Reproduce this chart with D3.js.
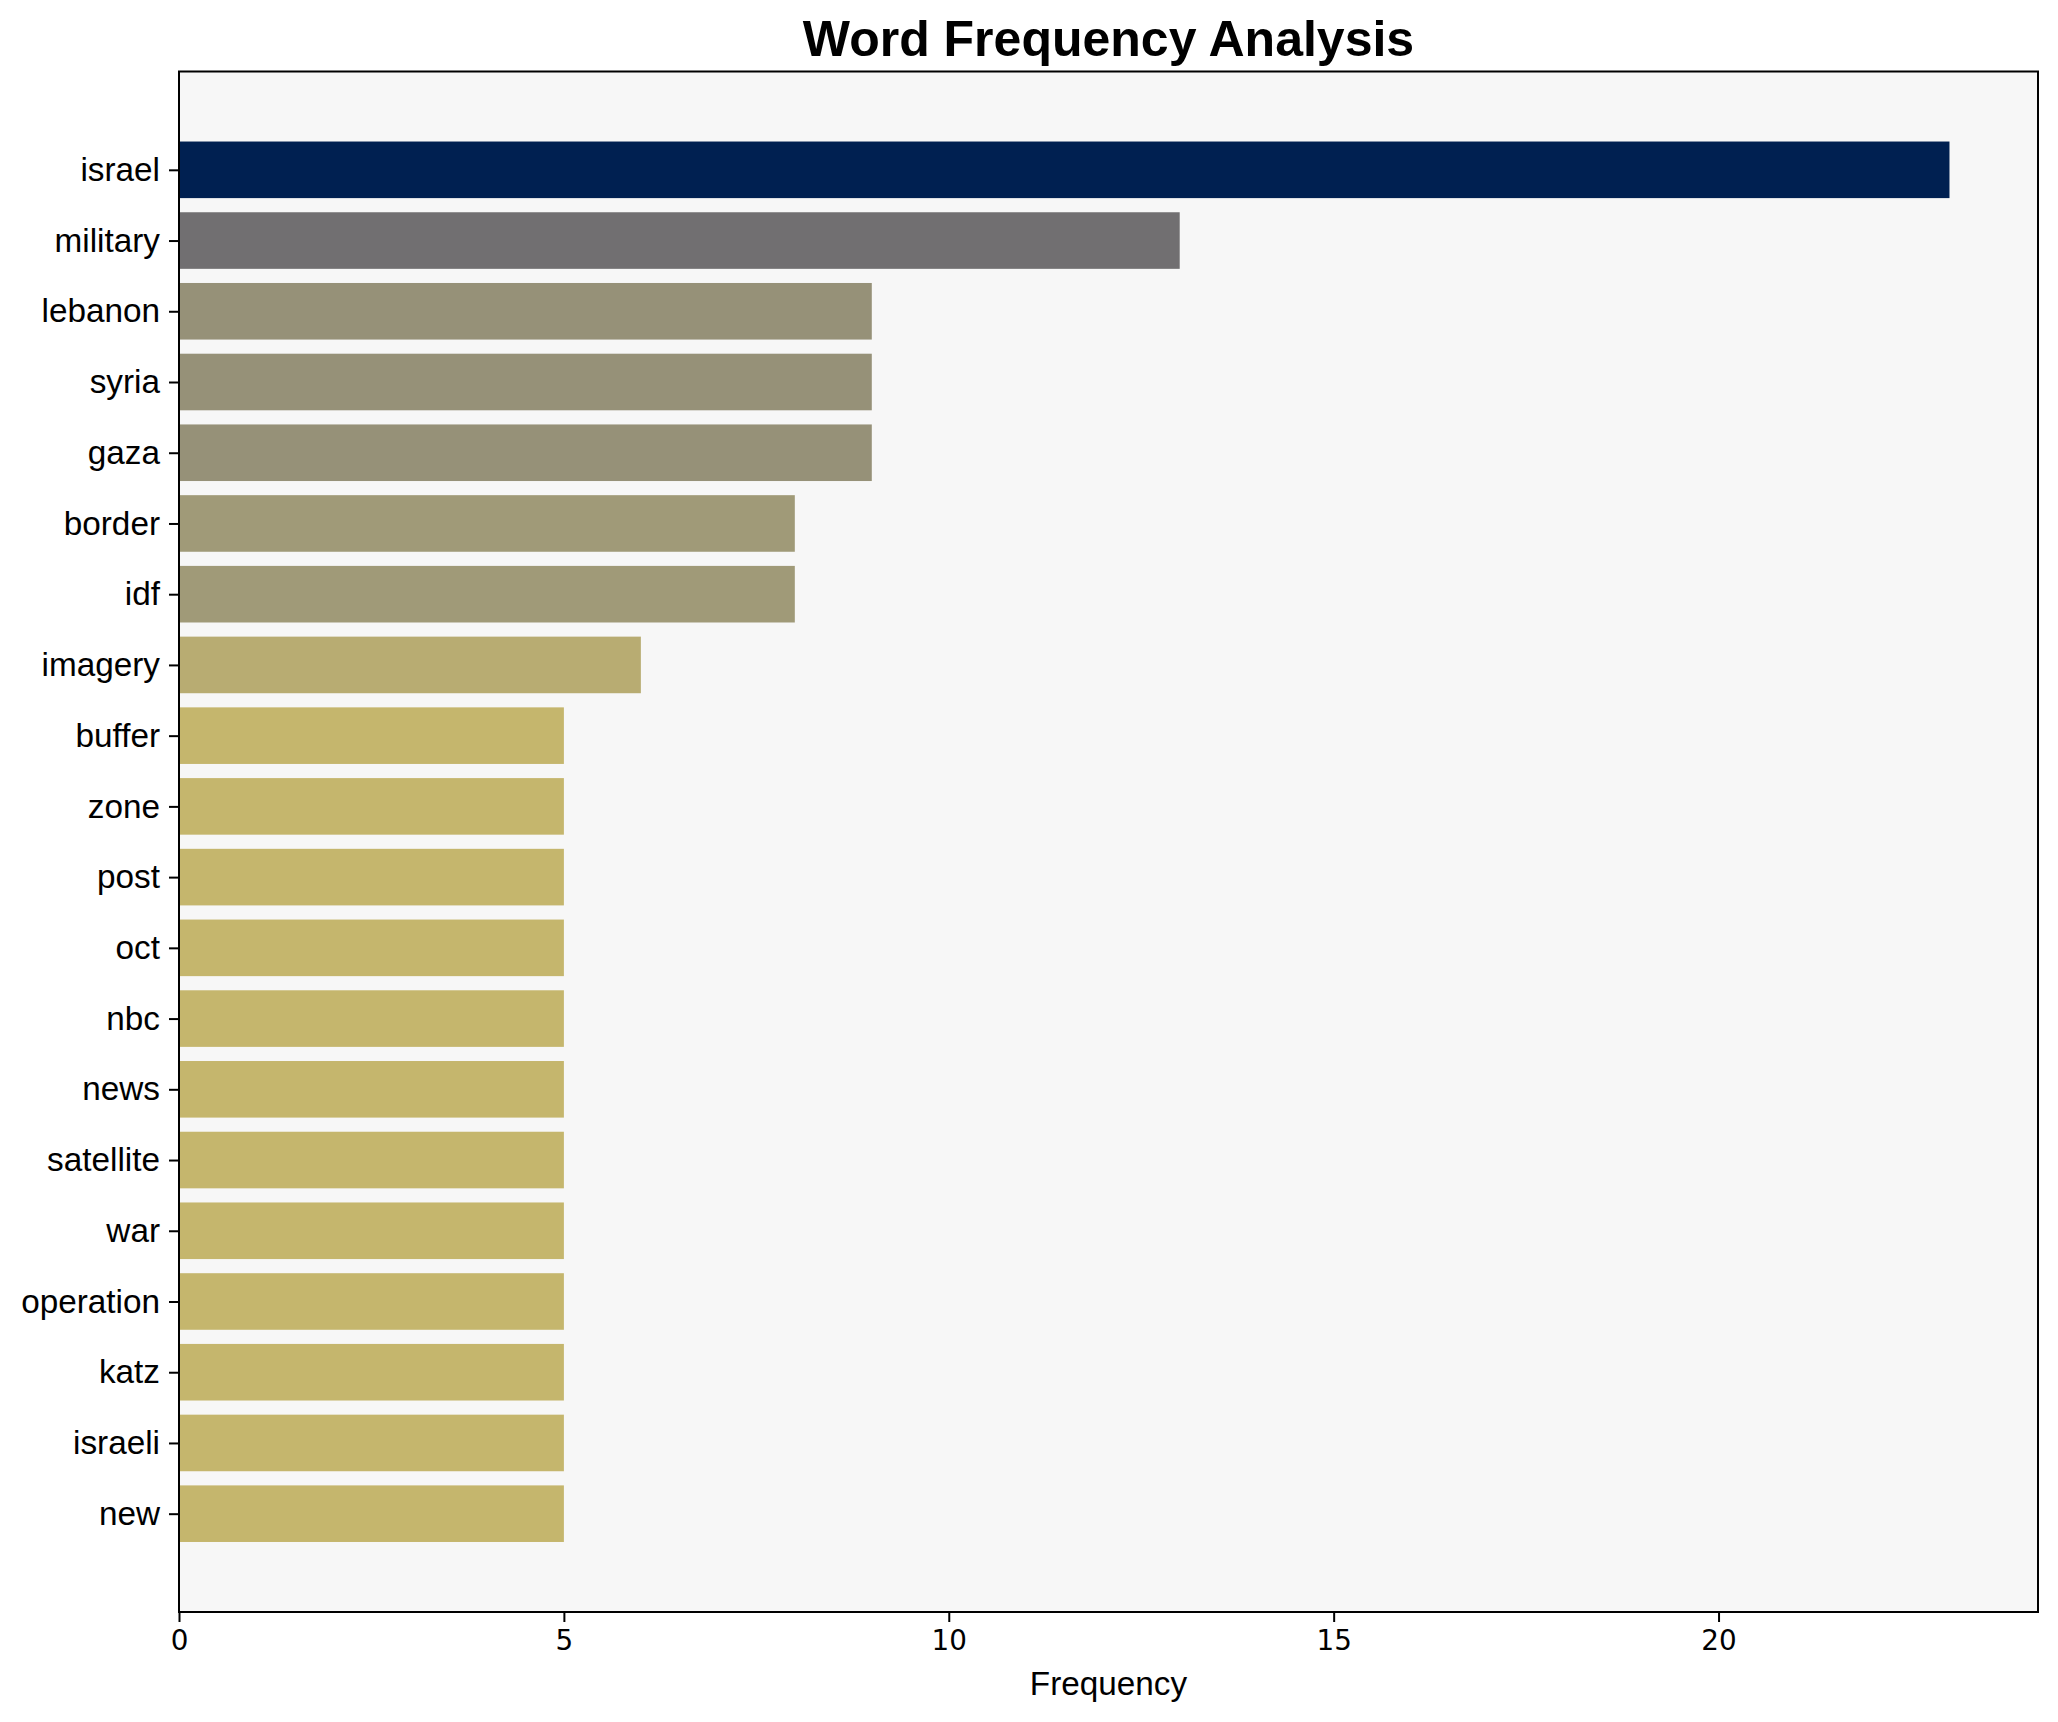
<!DOCTYPE html>
<html>
<head>
<meta charset="utf-8">
<script src="https://cdn.jsdelivr.net/npm/d3@7"></script>
<style>
  html, body { margin: 0; padding: 0; background: #ffffff; }
  svg { display: block; }
</style>
</head>
<body>
<div id="chart"></div>
<script>
const words = ["israel", "military", "lebanon", "syria", "gaza", "border", "idf", "imagery",
  "buffer", "zone", "post", "oct", "nbc", "news", "satellite", "war", "operation", "katz", "israeli", "new"];
const counts = [23, 13, 9, 9, 9, 8, 8, 6, 5, 5, 5, 5, 5, 5, 5, 5, 5, 5, 5, 5];
const xTicks = [0, 5, 10, 15, 20];
const titleText = "Word Frequency Analysis";
const xLabel = "Frequency";

const W = 2058, H = 1722;
const margin = { left: 179, right: W - 2038, top: 71.5, bottom: H - 1612 };
const pw = W - margin.left - margin.right;
const ph = H - margin.top - margin.bottom;

const svg = d3.select("#chart").append("svg").attr("width", W).attr("height", H);
svg.append("rect").attr("width", W).attr("height", H).attr("fill", "#ffffff");

const maxV = d3.max(counts);
const n = words.length;
const barH = 0.8;
const yPad = 0.05 * ((n - 1 + barH / 2) - (-barH / 2));

const x = d3.scaleLinear().domain([0, maxV * 1.05]).range([0, pw]);
const y = d3.scaleLinear().domain([-barH / 2 - yPad, n - 1 + barH / 2 + yPad]).range([0, ph]);
const color = v => d3.interpolateCividis(1 - v / maxV);

const g = svg.append("g").attr("transform", `translate(${margin.left},${margin.top})`);
g.append("rect").attr("width", pw).attr("height", ph).attr("fill", "#f7f7f7");

g.selectAll("rect.bar").data(counts).enter().append("rect")
  .attr("class", "bar")
  .attr("x", x(0))
  .attr("y", (d, i) => y(i - barH / 2))
  .attr("width", d => x(d) - x(0))
  .attr("height", (d, i) => y(i + barH / 2) - y(i - barH / 2))
  .attr("fill", d => color(d));

// y axis
const yAxis = g.append("g")
  .call(d3.axisLeft(y).tickValues(d3.range(n)).tickFormat(i => words[i]).tickSize(10).tickPadding(9));
yAxis.select(".domain").remove();
yAxis.selectAll("line").attr("stroke", "#000").attr("stroke-width", 2);
yAxis.selectAll("text").attr("font-family", "'Liberation Sans', Arial, sans-serif")
  .attr("font-size", 33.3).attr("fill", "#000");

// x axis
const xAxis = g.append("g").attr("transform", `translate(0,${ph})`)
  .call(d3.axisBottom(x).tickValues(xTicks).tickFormat(d3.format("d")).tickSize(10).tickPadding(8));
xAxis.select(".domain").remove();
xAxis.selectAll("line").attr("stroke", "#000").attr("stroke-width", 2);
xAxis.selectAll("text").attr("font-family", "'DejaVu Sans', sans-serif")
  .attr("font-size", 27.8).attr("fill", "#000");

// frame
g.append("rect").attr("width", pw).attr("height", ph)
  .attr("fill", "none").attr("stroke", "#000").attr("stroke-width", 2);

// x label
svg.append("text")
  .attr("x", margin.left + pw / 2).attr("y", 1695)
  .attr("text-anchor", "middle")
  .attr("font-family", "'Liberation Sans', Arial, sans-serif")
  .attr("font-size", 33.3).attr("fill", "#000")
  .text(xLabel);

// title
svg.append("text")
  .attr("x", margin.left + pw / 2).attr("y", 56)
  .attr("text-anchor", "middle")
  .attr("font-family", "'Liberation Sans', Arial, sans-serif")
  .attr("font-weight", "bold")
  .attr("font-size", 50).attr("fill", "#000")
  .text(titleText);
</script>
</body>
</html>
